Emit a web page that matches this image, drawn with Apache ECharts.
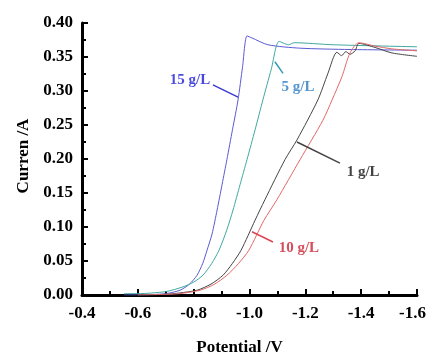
<!DOCTYPE html>
<html>
<head>
<meta charset="utf-8">
<script src="https://cdn.jsdelivr.net/npm/echarts@6/dist/echarts.min.js"></script>
<style>
  html, body { margin: 0; padding: 0; background: #fff; }
  #main { width: 429px; height: 356px; }
</style>
</head>
<body>
<div id="main"></div>
<script>
// potential (V) / current (A) pairs
const c15 = [[-0.55, 0.000], [-0.60, 0.000], [-0.70, 0.002], [-0.751, 0.007], [-0.785, 0.016], [-0.812, 0.029],
  [-0.832, 0.046], [-0.848, 0.066], [-0.866, 0.090], [-0.884, 0.125], [-0.902, 0.163], [-0.919, 0.199],
  [-0.939, 0.243], [-0.959, 0.287], [-0.975, 0.335], [-0.991, 0.381], [-1.009, 0.378], [-1.066, 0.368],
  [-1.18, 0.363], [-1.36, 0.361], [-1.60, 0.360]];
const c5 = [[-0.55, 0.002], [-0.60, 0.002], [-0.70, 0.005], [-0.762, 0.012], [-0.800, 0.019], [-0.833, 0.029],
  [-0.864, 0.046], [-0.891, 0.066], [-0.919, 0.096], [-0.941, 0.125], [-0.966, 0.162], [-0.991, 0.199],
  [-1.020, 0.243], [-1.048, 0.287], [-1.078, 0.332], [-1.106, 0.373], [-1.14, 0.368], [-1.16, 0.371],
  [-1.30, 0.368], [-1.60, 0.365]];
const c1 = [[-0.60, 0.000], [-0.70, 0.001], [-0.75, 0.003], [-0.812, 0.007], [-0.862, 0.016], [-0.905, 0.029],
  [-0.938, 0.046], [-0.970, 0.066], [-1.020, 0.110], [-1.055, 0.140], [-1.127, 0.199], [-1.170, 0.228],
  [-1.245, 0.287], [-1.281, 0.326], [-1.313, 0.357], [-1.33, 0.352], [-1.345, 0.358], [-1.36, 0.354],
  [-1.378, 0.359], [-1.392, 0.370], [-1.45, 0.364], [-1.51, 0.356], [-1.60, 0.351]];
const c10 = [[-0.60, 0.000], [-0.70, 0.001], [-0.75, 0.002], [-0.823, 0.007], [-0.875, 0.016], [-0.919, 0.029],
  [-0.960, 0.046], [-0.998, 0.066], [-1.052, 0.110], [-1.098, 0.140], [-1.181, 0.199], [-1.263, 0.257],
  [-1.296, 0.287], [-1.331, 0.321], [-1.360, 0.356], [-1.392, 0.371], [-1.45, 0.366], [-1.51, 0.362],
  [-1.60, 0.359]];

const names = ['15 g/L', '5 g/L', '1 g/L', '10 g/L'];
const curves = [c15, c5, c1, c10];
const lineColors = ['#5a5ad2', '#3fa8a0', '#454545', '#e06868'];
const textColors = ['#1c1cd6', '#2a7cc4', '#111111', '#cc2233'];
const leadColors = ['#3b3bd0', '#3a98b8', '#444444', '#dd4455'];
// label anchor and leader line ends, in data units
const labelAt = [[-0.787, 0.316], [-1.174, 0.306], [-1.407, 0.181], [-1.177, 0.069]];
const leaders = [
  [[-0.869, 0.309], [-0.959, 0.291]],
  [[-1.120, 0.326], [-1.091, 0.343]],
  [[-1.324, 0.194], [-1.170, 0.225]],
  [[-1.084, 0.078], [-1.009, 0.093]]
];

const serif = '"Liberation Serif", "Times New Roman", serif';
const series = [];
curves.forEach((d, i) => {
  series.push({
    type: 'line', data: d, showSymbol: false, smooth: 0.25,
    lineStyle: { color: lineColors[i], width: 1 }, z: 3
  });
});
leaders.forEach((d, i) => {
  series.push({
    type: 'line', data: d, showSymbol: false,
    lineStyle: { color: leadColors[i], width: 1.5 }, z: 4
  });
});
series.push({
  type: 'scatter', symbolSize: 0, z: 5,
  data: labelAt.map((p, i) => ({
    value: p,
    label: { show: true, position: 'inside', formatter: names[i], color: textColors[i] }
  })),
  label: { fontFamily: serif, fontWeight: 'bold', fontSize: 15 }
});

const chart = echarts.init(document.getElementById('main'), null, { renderer: 'canvas' });
chart.setOption({
  animation: false,
  grid: { left: 82, right: 12, top: 23, bottom: 61, outerBoundsMode: 'none', containLabel: false },
  xAxis: {
    type: 'value', inverse: true, min: -1.6, max: -0.4, interval: 0.2,
    name: 'Potential /V', nameLocation: 'middle', nameGap: 44,
    nameTextStyle: { fontFamily: serif, fontWeight: 'bold', fontSize: 17, color: '#000', padding: [0, 20, 0, 0] },
    axisLine: { lineStyle: { color: '#000', width: 3 } },
    axisTick: { show: true, inside: true, length: 6, lineStyle: { color: '#000', width: 2 } },
    minorTick: { show: true, splitNumber: 2, length: 4, lineStyle: { color: '#000', width: 2 } },
    axisLabel: {
      fontFamily: serif, fontWeight: 'bold', fontSize: 17, color: '#000', margin: 10,
      formatter: v => (v <= -1.6 ? '{e|' + v.toFixed(1) + '}' : v.toFixed(1)),
      rich: { e: { fontFamily: serif, fontWeight: 'bold', fontSize: 17, color: '#000', padding: [0, 9, 0, 0] } }
    },
    splitLine: { show: false }
  },
  yAxis: {
    type: 'value', min: 0, max: 0.4, interval: 0.05,
    name: 'Curren /A', nameLocation: 'middle', nameGap: 50, nameRotate: 90,
    nameTextStyle: { fontFamily: serif, fontWeight: 'bold', fontSize: 17, color: '#000', padding: [0, 0, 0, 6] },
    axisLine: { show: true, lineStyle: { color: '#000', width: 3 } },
    axisTick: { show: true, inside: true, length: 6, lineStyle: { color: '#000', width: 2 } },
    minorTick: { show: true, splitNumber: 2, length: 4, lineStyle: { color: '#000', width: 2 } },
    axisLabel: { fontFamily: serif, fontWeight: 'bold', fontSize: 17, color: '#000', margin: 9,
      formatter: v => v.toFixed(2) },
    splitLine: { show: false }
  },
  series: series
});
</script>
</body>
</html>
